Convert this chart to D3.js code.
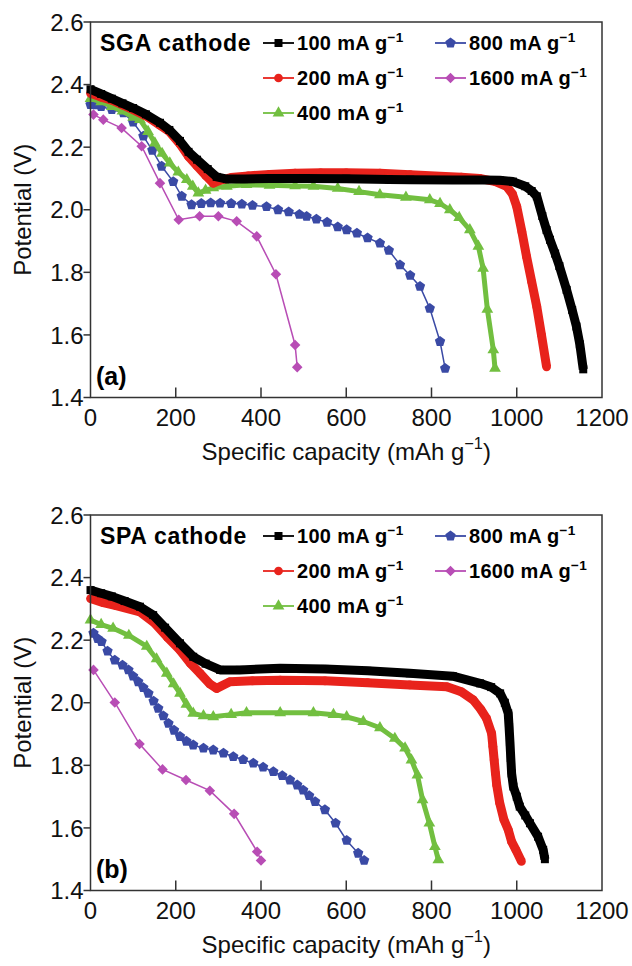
<!DOCTYPE html>
<html>
<head>
<meta charset="utf-8">
<script src="https://cdn.jsdelivr.net/npm/d3@7"></script>
<style>
  body { margin: 0; background: #fff; }
  text { font-family: "Liberation Sans", Arial, sans-serif; }
</style>
</head>
<body>
<svg width="632" height="966"></svg>
<script>
// axis ticks
var capTicks = [0, 200, 400, 600, 800, 1000, 1200];
var vTicks = [1.4, 1.6, 1.8, 2.0, 2.2, 2.4, 2.6];
var rates = ["100", "200", "400", "800", "1600"];

// (a) SGA cathode  [capacity mAh/g, potential V]
var sga100 = [[0,2.385],[25,2.37],[50,2.355],[75,2.34],[100,2.325],[130,2.305],[163,2.278],[185,2.255],[210,2.22],[230,2.185],[250,2.16],[275,2.13],[296,2.105],[320,2.098],[360,2.098],[420,2.1],[500,2.1],[600,2.099],[700,2.097],[750,2.096],[850,2.095],[920,2.095],[960,2.094],[991,2.09],[1020,2.075],[1035,2.06],[1047,2.043],[1060,1.98],[1070,1.935],[1078,1.904],[1090,1.86],[1100,1.82],[1117,1.744],[1130,1.68],[1140,1.627],[1148,1.57],[1153,1.52],[1156,1.49]];
var sga200 = [[0,2.372],[25,2.36],[50,2.35],[75,2.335],[100,2.32],[130,2.3],[163,2.27],[185,2.25],[210,2.21],[230,2.17],[250,2.14],[270,2.11],[288,2.085],[305,2.095],[330,2.103],[370,2.108],[420,2.113],[480,2.117],[540,2.118],[600,2.118],[679,2.117],[750,2.112],[820,2.107],[870,2.104],[913,2.1],[950,2.09],[976,2.075],[990,2.05],[1000,2.01],[1012,1.93],[1023,1.85],[1035,1.77],[1047,1.69],[1058,1.6],[1070,1.498]];
var sga400 = [[0,2.355],[25,2.345],[50,2.33],[75,2.315],[100,2.295],[116,2.288],[135,2.25],[151,2.213],[168,2.18],[186,2.149],[206,2.12],[226,2.096],[240,2.075],[253,2.053],[270,2.062],[288,2.07],[320,2.075],[366,2.08],[420,2.078],[480,2.076],[523,2.075],[580,2.068],[630,2.058],[679,2.048],[740,2.04],[796,2.032],[820,2.02],[843,2.0],[865,1.975],[890,1.936],[910,1.883],[921,1.813],[931,1.682],[945,1.552],[949,1.493]];
var sga800 = [[0,2.336],[12,2.335],[25,2.33],[50,2.32],[77,2.31],[100,2.28],[124,2.235],[145,2.19],[167,2.139],[194,2.09],[214,2.043],[237,2.016],[260,2.02],[282,2.022],[304,2.021],[330,2.02],[355,2.018],[380,2.014],[413,2.01],[440,2.0],[465,1.993],[490,1.985],[507,1.979],[530,1.97],[555,1.96],[580,1.945],[601,1.936],[625,1.925],[650,1.91],[679,1.893],[700,1.87],[726,1.824],[750,1.79],[773,1.755],[796,1.685],[820,1.579],[832,1.493]];
var sga1600 = [[7,2.304],[30,2.288],[73,2.261],[120,2.203],[163,2.085],[207,1.968],[256,1.979],[300,1.979],[343,1.963],[390,1.915],[435,1.794],[480,1.568],[485,1.497]];

// (b) SPA cathode
var spa100 = [[0,2.36],[25,2.35],[50,2.34],[80,2.325],[116,2.307],[147,2.28],[175,2.24],[210,2.19],[241,2.147],[270,2.125],[304,2.105],[350,2.105],[445,2.11],[550,2.108],[650,2.102],[749,2.094],[850,2.085],[914,2.062],[940,2.05],[961,2.03],[972,2.0],[980,1.966],[982,1.923],[984,1.875],[986,1.823],[988,1.774],[992,1.732],[1000,1.7],[1007,1.668],[1020,1.64],[1031,1.615],[1050,1.572],[1062,1.53],[1066,1.5]];
var spa200 = [[0,2.333],[30,2.32],[60,2.31],[116,2.29],[150,2.255],[180,2.21],[210,2.168],[235,2.125],[257,2.094],[280,2.06],[296,2.046],[327,2.067],[380,2.07],[445,2.072],[550,2.07],[650,2.064],[749,2.057],[836,2.051],[870,2.035],[898,2.009],[915,1.98],[929,1.95],[941,1.902],[944,1.86],[947,1.817],[950,1.775],[953,1.737],[960,1.68],[970,1.626],[980,1.594],[988,1.556],[998,1.53],[1011,1.493]];
var spa400 = [[0,2.264],[25,2.25],[53,2.238],[90,2.215],[132,2.18],[155,2.14],[179,2.094],[195,2.06],[210,2.03],[225,1.995],[241,1.966],[265,1.958],[288,1.955],[330,1.962],[366,1.968],[445,1.968],[523,1.968],[570,1.962],[601,1.955],[640,1.94],[679,1.92],[714,1.886],[738,1.855],[753,1.817],[767,1.769],[779,1.69],[795,1.615],[808,1.54],[816,1.498]];
var spa800 = [[7,2.222],[17,2.205],[26,2.195],[40,2.165],[57,2.136],[75,2.12],[89,2.105],[100,2.085],[112,2.067],[124,2.048],[136,2.03],[148,2.005],[159,1.982],[171,1.958],[183,1.934],[196,1.912],[210,1.892],[225,1.877],[241,1.865],[265,1.855],[288,1.849],[312,1.839],[335,1.828],[358,1.818],[382,1.807],[405,1.794],[429,1.78],[450,1.767],[468,1.753],[485,1.737],[499,1.721],[513,1.703],[527,1.684],[550,1.658],[575,1.615],[601,1.56],[628,1.519],[642,1.496]];
var spa1600 = [[7,2.105],[57,2.001],[115,1.868],[169,1.787],[224,1.753],[280,1.719],[337,1.645],[391,1.524],[400,1.496]];

var colors = ["#000000", "#e8231c", "#72bf40", "#3a4aa5", "#b84db5"];
var bands = [9, 9, 5, 0, 0]; // thick dense-marker look for low rates

var svg = d3.select("svg");

var x = d3.scaleLinear().domain([0, 1200]).range([90.5, 602]);

// pentagon marker
var pentagon = {
  draw: function(ctx, size) {
    var r = Math.sqrt(size / 2.38);
    for (var i = 0; i < 5; i++) {
      var a = -Math.PI / 2 + i * 2 * Math.PI / 5;
      if (i == 0) ctx.moveTo(r * Math.cos(a), r * Math.sin(a));
      else ctx.lineTo(r * Math.cos(a), r * Math.sin(a));
    }
    ctx.closePath();
  }
};
var shapes = [d3.symbolSquare, d3.symbolCircle, d3.symbolTriangle, pentagon, d3.symbolSquare];
var sizes = [64, 60, 60, 70, 56];
var rot = [0, 0, 0, 0, 45];

function marker(sel, i, cx, cy) {
  sel.append("path")
    .attr("d", d3.symbol().type(shapes[i]).size(sizes[i])())
    .attr("transform", "translate(" + cx + "," + cy + ") rotate(" + rot[i] + ")")
    .attr("fill", colors[i]);
}

function unitText(t, str, big) {
  t.append("tspan").text(str);
  t.append("tspan").attr("dy", -big * 0.42).attr("font-size", big * 0.68).text("\u22121");
}

function drawPanel(top, bottom, title, tag, series) {
  var y = d3.scaleLinear().domain([1.4, 2.6]).range([bottom, top]);
  var g = svg.append("g");

  var line = d3.line()
    .x(function(d) { return x(d[0]); })
    .y(function(d) { return y(d[1]); });

  // draw high rates first so black/red sit on top
  for (var i = series.length - 1; i >= 0; i--) {
    var s = series[i];
    if (bands[i] > 0) {
      g.append("path").datum(s).attr("d", line)
        .attr("fill", "none").attr("stroke", colors[i])
        .attr("stroke-width", bands[i]).attr("stroke-linejoin", "round");
    }
    g.append("path").datum(s).attr("d", line)
      .attr("fill", "none").attr("stroke", colors[i]).attr("stroke-width", 1.5);
    var mg = g.append("g");
    s.forEach(function(d) { marker(mg, i, x(d[0]), y(d[1])); });
  }

  // frame
  g.append("rect")
    .attr("x", x(0)).attr("y", top)
    .attr("width", x(1200) - x(0)).attr("height", bottom - top)
    .attr("fill", "none").attr("stroke", "#333").attr("stroke-width", 1.5);

  // x ticks (inward) + labels
  var xa = g.append("g");
  capTicks.forEach(function(t) {
    if (t > 0 && t < 1200) {
      xa.append("line").attr("x1", x(t)).attr("x2", x(t))
        .attr("y1", bottom).attr("y2", bottom - 10)
        .attr("stroke", "#333").attr("stroke-width", 1.5);
    }
    xa.append("text").attr("x", x(t)).attr("y", bottom + 28)
      .attr("text-anchor", "middle").attr("font-size", 24).attr("fill", "#111")
      .text(t);
  });

  // y ticks (outward) + labels
  var ya = g.append("g");
  vTicks.forEach(function(t) {
    ya.append("line").attr("x1", x(0) - 7).attr("x2", x(0))
      .attr("y1", y(t)).attr("y2", y(t))
      .attr("stroke", "#333").attr("stroke-width", 1.5);
    ya.append("text").attr("x", x(0) - 7).attr("y", y(t)).attr("dy", "0.36em")
      .attr("text-anchor", "end").attr("font-size", 24).attr("fill", "#111")
      .text(d3.format(".1f")(t));
  });

  // axis titles
  var xt = g.append("text").attr("x", (x(0) + x(1200)) / 2).attr("y", bottom + 62)
    .attr("text-anchor", "middle").attr("font-size", 24).attr("fill", "#111");
  unitText(xt, "Specific capacity (mAh g", 24);
  xt.append("tspan").attr("dy", 24 * 0.42).text(")");

  g.append("text")
    .attr("transform", "translate(31," + ((top + bottom) / 2) + ") rotate(-90)")
    .attr("text-anchor", "middle").attr("font-size", 24).attr("fill", "#111")
    .text("Potential (V)");

  // legend
  g.append("text").attr("x", 100).attr("y", top + 29)
    .attr("font-size", 23).attr("font-weight", "bold").attr("letter-spacing", 0.7)
    .text(title);
  var pos = [[263, 0], [263, 1], [263, 2], [435, 0], [435, 1]];
  rates.forEach(function(r, i) {
    var lx = pos[i][0], ly = top + 21 + pos[i][1] * 35;
    g.append("line").attr("x1", lx).attr("x2", lx + 31).attr("y1", ly).attr("y2", ly)
      .attr("stroke", colors[i]).attr("stroke-width", 1.8);
    marker(g, i, lx + 15.5, ly);
    var t = g.append("text").attr("x", lx + 34).attr("y", ly + 7)
      .attr("font-size", 20).attr("font-weight", "bold").attr("letter-spacing", 0.3);
    unitText(t, r + " mA g", 20);
  });

  // panel tag
  g.append("text").attr("x", 96).attr("y", bottom - 13)
    .attr("font-size", 25).attr("font-weight", "bold").text(tag);
}

drawPanel(22, 397.5, "SGA cathode", "(a)", [sga100, sga200, sga400, sga800, sga1600]);
drawPanel(515, 890.5, "SPA cathode", "(b)", [spa100, spa200, spa400, spa800, spa1600]);
</script>
</body>
</html>
